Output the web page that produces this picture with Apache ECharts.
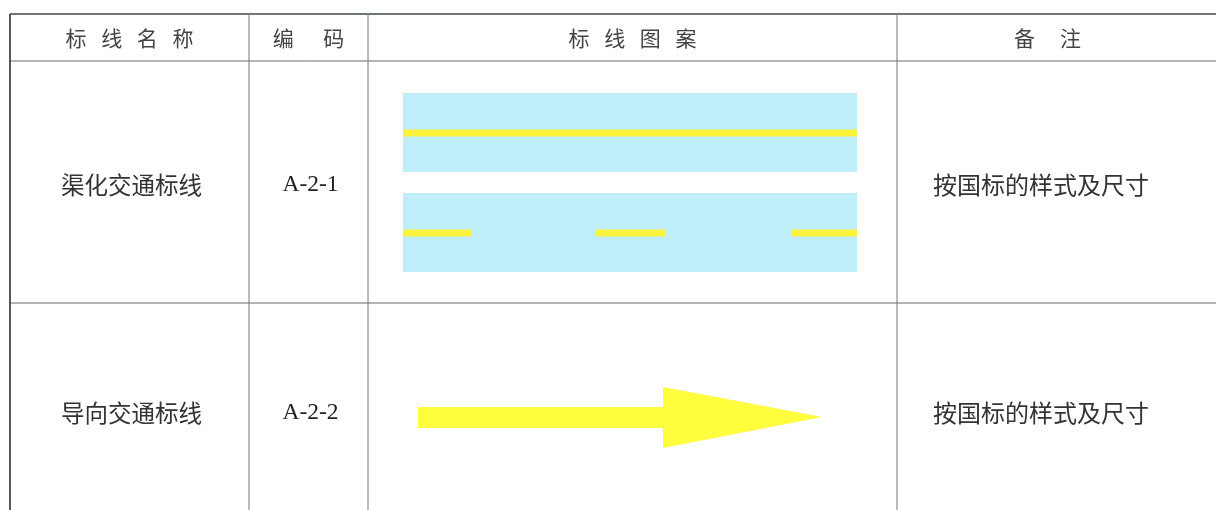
<!DOCTYPE html>
<html>
<head>
<meta charset="utf-8">
<script src="https://cdn.jsdelivr.net/npm/echarts@6/dist/echarts.min.js"></script>
<style>html,body{margin:0;padding:0;background:#fff}#c{width:1216px;height:510px}</style>
</head>
<body>
<div id="c"></div>
<script>
// ---- table data (in table units on hidden value axes) ----
const headers = ['标\u2002\u2009线\u2002\u2009名\u2002\u2009称', '编\u3000\u2009\u2009码', '标\u2002\u2009线\u2002\u2009图\u2002\u2009案', '备\u3000\u2009注'];
const names = ['渠化交通标线', '导向交通标线'];
const codes = ['A-2-1', 'A-2-2'];
const notes = ['按国标的样式及尺寸', '按国标的样式及尺寸'];
const colEdges = [10, 249, 368, 897, 1198];
const rowEdges = [14, 61, 303, 523];
const textRowY = [38, 185, 413];
// lane backgrounds: [x0, x1, y0, y1]
const lanes = [[403, 857, 93, 172], [403, 857, 193, 272]];
// yellow markings: [x0, x1, y]
const solidMarks = [[403, 857, 133]];
const dashMarks = [[403, 472, 233], [595, 665, 233], [792, 857, 233]];
// arrow outline points [x, y]
const arrowPts = [[418, 407], [663, 407], [663, 387], [822, 417], [663, 448], [663, 428], [418, 428]];

// ---- build primitives ----
const gridLines = [];
// horizontal lines [x0,y0,x1,y1,width,color]
rowEdges.slice(0, 3).forEach((y, i) => {
  gridLines.push([colEdges[0], y, 1216, y, i === 0 ? 1.6 : 1, i === 0 ? '#3f4a44' : '#6a6a6a']);
});
colEdges.slice(0, 4).forEach((x, i) => {
  gridLines.push([x, rowEdges[0], x, 510, i === 0 ? 1.8 : 1, i === 0 ? '#444' : '#777']);
});

const texts = [];
headers.forEach((h, i) => texts.push({ x: (colEdges[i] + colEdges[i + 1]) / 2, y: textRowY[0], t: h, align: 'center', serif: false, size: 21, color: '#444' }));
names.forEach((n, r) => {
  const y = textRowY[r + 1];
  texts.push({ x: (colEdges[0] + colEdges[1]) / 2 + 2, y, t: n, align: 'center', serif: false, size: 23.5, color: '#333' });
  texts.push({ x: (colEdges[1] + colEdges[2]) / 2 + 2, y, t: codes[r], align: 'center', serif: true, size: 23.5, color: '#222' });
  texts.push({ x: colEdges[3] + 36, y, t: notes[r], align: 'left', serif: false, size: 24, color: '#333' });
});

const chart = echarts.init(document.getElementById('c'), null, { renderer: 'canvas' });
chart.setOption({
  backgroundColor: '#fff',
  animation: false,
  grid: { left: 0, right: 0, top: 0, bottom: 0 },
  xAxis: { type: 'value', min: 0, max: 1216, show: false },
  yAxis: { type: 'value', min: 0, max: 510, inverse: true, show: false },
  series: [
    {
      type: 'custom', name: 'lanes', silent: true, z: 1,
      data: lanes,
      renderItem: (p, api) => {
        const a = api.coord([api.value(0), api.value(2)]);
        const b = api.coord([api.value(1), api.value(3)]);
        return { type: 'rect', shape: { x: a[0], y: a[1], width: b[0] - a[0], height: b[1] - a[1] }, style: { fill: '#bfeef9' } };
      }
    },
    {
      type: 'custom', name: 'marks', silent: true, z: 2,
      data: solidMarks.concat(dashMarks),
      renderItem: (p, api) => {
        const a = api.coord([api.value(0), api.value(2)]);
        const b = api.coord([api.value(1), api.value(2)]);
        return { type: 'line', shape: { x1: a[0], y1: a[1], x2: b[0], y2: b[1] }, style: { stroke: '#fbf23c', lineWidth: 7 } };
      }
    },
    {
      type: 'custom', name: 'arrow', silent: true, z: 2,
      data: [0],
      renderItem: (p, api) => ({
        type: 'polygon',
        shape: { points: arrowPts.map(pt => api.coord(pt)) },
        style: { fill: '#ffff3e' }
      })
    },
    {
      type: 'custom', name: 'grid', silent: true, z: 3,
      data: gridLines.map(g => g.slice(0, 5)),
      renderItem: (p, api) => {
        const g = gridLines[p.dataIndex];
        const a = api.coord([g[0], g[1]]);
        const b = api.coord([g[2], g[3]]);
        return { type: 'line', shape: { x1: a[0], y1: a[1], x2: b[0], y2: b[1] }, style: { stroke: g[5], lineWidth: g[4] } };
      }
    },
    {
      type: 'custom', name: 'text', silent: true, z: 4,
      data: texts.map(t => [t.x, t.y]),
      renderItem: (p, api) => {
        const t = texts[p.dataIndex];
        const c = api.coord([t.x, t.y]);
        return {
          type: 'text',
          style: {
            x: c[0], y: c[1], text: t.t,
            fill: t.color,
            fontSize: t.size,
            fontFamily: t.serif ? '"Liberation Serif", "DejaVu Serif", serif' : '"Noto Sans CJK SC", sans-serif',
            fontWeight: 'normal',
            align: t.align, verticalAlign: 'middle'
          }
        };
      }
    }
  ]
});
</script>
</body>
</html>
